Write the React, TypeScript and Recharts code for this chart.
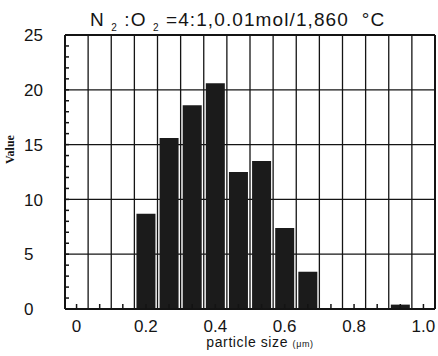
import { Bar, BarChart, CartesianGrid, XAxis, YAxis } from 'recharts'

// particle size bins (centre of each bin, 1/15 wide) and the counts
const binCenters = ['0', '0.067', '0.133', '0.2', '0.267', '0.333', '0.4', '0.467', '0.533', '0.6', '0.667', '0.733', '0.8', '0.867', '0.933', '1.0']
const counts = [0, 0, 0, 8.7, 15.6, 18.6, 20.6, 12.5, 13.5, 7.4, 3.4, 0, 0, 0, 0.4, 0]
const xTickLabels = ['0', '0.2', '0.4', '0.6', '0.8', '1.0']
const yTicks = [0, 5, 10, 15, 20, 25]
const yMinorTicks = Array.from({ length: 26 }, (_, i) => i)

const data = binCenters.map((c, i) => ({ center: c, value: counts[i] }))

const ink = '#141414'
const axisLine = { stroke: ink, strokeWidth: 2 }
const minorTick = { stroke: ink, strokeWidth: 1.5 }

function YTick({ x, y, payload }: any) {
  if (!yTicks.includes(payload.value)) return <g />
  return (
    <text x={x} y={y} dy="0.36em" textAnchor="start" fontSize={17} fill={ink}>
      {payload.value}
    </text>
  )
}

function XTick({ x, y, payload }: any) {
  if (!xTickLabels.includes(payload.value)) return <g />
  return (
    <text x={x} y={y} dy="0.71em" textAnchor="middle" fontSize={17} fill={ink}>
      {payload.value}
    </text>
  )
}

function XLabel({ viewBox }: any) {
  const { x, y, width } = viewBox
  return (
    <text x={x + width / 2 + 10} y={y + 38} textAnchor="middle" fontSize={14} letterSpacing={0.6} fill={ink}>
      particle size <tspan fontSize={9}>(μm)</tspan>
    </text>
  )
}

// vertical grid lines sit on the bin edges (start of every band after the first)
function binEdges({ xAxis, offset }: any) {
  const s = xAxis?.scale
  if (typeof s === 'function') return binCenters.slice(1).map((c) => s(c))
  return binCenters.slice(1).map((_, i) => offset.left + ((i + 1) * offset.width) / binCenters.length)
}

export default function App() {
  return (
    <div style={{ position: 'absolute', left: 0, top: 0, width: 438, height: 356, background: '#fff', fontFamily: '"Liberation Sans", Arial, sans-serif' }}>
      <div style={{ position: 'absolute', left: 90, top: 10, fontSize: 19, color: ink, whiteSpace: 'nowrap', letterSpacing: 1.1, lineHeight: '20px' }}>
        N <sub style={{ fontSize: 10 }}>2</sub> :O <sub style={{ fontSize: 10 }}>2</sub> =4:1,0.01mol/1,860&nbsp;&nbsp;°C
      </div>
      <BarChart
        width={438}
        height={356}
        data={data}
        margin={{ top: 34, right: 2, bottom: 7, left: 5 }}
        barCategoryGap="9%"
      >
        <CartesianGrid horizontalValues={yTicks} verticalCoordinatesGenerator={binEdges} stroke={ink} strokeWidth={1.3} />
        <XAxis
          dataKey="center"
          height={40}
          interval={0}
          tickSize={-5}
          tickMargin={16}
          tickLine={minorTick}
          axisLine={axisLine}
          tick={<XTick />}
          label={<XLabel />}
        />
        <XAxis xAxisId="top" dataKey="center" orientation="top" height={1} interval={0} tick={false} tickSize={-5} tickLine={minorTick} axisLine={axisLine} />
        <YAxis
          domain={[0, 25]}
          ticks={yMinorTicks}
          interval={0}
          width={60}
          tickSize={-4}
          tickMargin={45}
          tickLine={minorTick}
          axisLine={axisLine}
          tick={<YTick />}
          label={{ value: 'Value', angle: -90, position: 'insideLeft', offset: 5, fontSize: 12, fontWeight: 'bold', fontFamily: '"Liberation Serif", serif', fill: ink, dy: -8 }}
        />
        <YAxis yAxisId="right" orientation="right" domain={[0, 25]} ticks={yMinorTicks} interval={0} width={1} tick={false} tickSize={-4} tickLine={minorTick} axisLine={axisLine} />
        <Bar dataKey="value" fill="#1b1b1b" isAnimationActive={false} />
      </BarChart>
    </div>
  )
}
